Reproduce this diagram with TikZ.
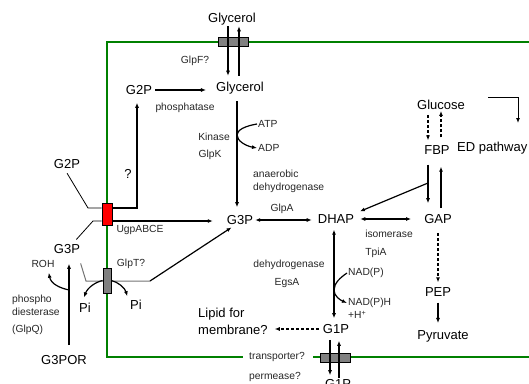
\documentclass[tikz,border=0pt]{standalone}
\usepackage{fontspec}
\setmainfont{Liberation Sans}
\usepackage{tikz}
\usetikzlibrary{arrows.meta, calc}
\definecolor{memgreen}{RGB}{0,128,0}
\definecolor{tpgray}{RGB}{128,128,128}
\tikzset{
  met/.style ={font=\fontsize{13}{17}\selectfont, inner sep=1pt},
  enz/.style ={font=\fontsize{10.3}{13}\selectfont, inner sep=1pt, text=black!85},
  mem/.style ={draw=memgreen, line width=2pt},
  tpg/.style ={rectangle, draw, fill=tpgray, line width=0.8pt, minimum width=30pt, minimum height=9pt, inner sep=0pt},
  tpr/.style ={rectangle, draw, fill=red, line width=0.8pt, minimum width=10pt, minimum height=22pt, inner sep=0pt},
  tpv/.style ={rectangle, draw, fill=tpgray, line width=0.8pt, minimum width=8pt, minimum height=25pt, inner sep=0pt},
  fl/.style  ={-{Latex[length=5pt,width=4pt]}, line width=1.2pt},
  fl2/.style ={{Latex[length=5pt,width=4pt]}-{Latex[length=5pt,width=4pt]}, line width=1.2pt},
  dfl/.style ={fl, dash pattern=on 3pt off 2pt},
  lk/.style  ={line width=0.8pt},
  lkg/.style ={line width=1pt, draw=black!55},
}

\begin{document}
\begin{tikzpicture}[x=1pt, y=-1pt]
  \useasboundingbox (0,0) rectangle (529,383);
  % membrane
  \draw[mem] (529,42) -- (107,42) -- (107,357) -- (243,357);
  \draw[mem] (313,357) -- (529,357);

  % metabolites and enzymes
  \node[met] (glyO) at (232,19) {Glycerol};
  \node[met] (glyI) at (240,88) {Glycerol};
  \node[met] (g2pI) at (139,90) {G2P};
  \node[enz] (glpF) at (195,61) {GlpF?};
  \node[enz] (phos) at (185,108) {phosphatase};
  \node[enz] (kin) at (214,137) {Kinase};
  \node[enz] (glpK) at (210,155) {GlpK};
  \node[enz, anchor=west] (atp) at (257,124) {ATP};
  \node[enz, anchor=west] (adp) at (257,148) {ADP};
  \node[enz, anchor=west, align=left] (anaer) at (252,181) {anaerobic\\dehydrogenase};
  \node[met] (g3p) at (240,220) {G3P};
  \node[enz] (glpA) at (282,209) {GlpA};
  \node[met] (dhap) at (336,219) {DHAP};
  \node[met] (gap) at (438,219) {GAP};
  \node[enz] (isom) at (389,234) {isomerase};
  \node[enz] (tpiA) at (376,253) {TpiA};
  \node[met] (pep) at (438,292) {PEP};
  \node[met] (pyr) at (443,336) {Pyruvate};
  \node[met] (glc) at (441,105) {Glucose};
  \node[met] (fbp) at (437,150) {FBP};
  \node[met, anchor=west] (ed) at (456,148) {ED pathway};
  \node[enz] (dhg) at (289,265) {dehydrogenase};
  \node[enz] (egsA) at (287,283) {EgsA};
  \node[enz, anchor=west] (nadp) at (347,273) {NAD(P)};
  \node[enz, anchor=west] (nadph) at (347,303) {NAD(P)H};
  \node[enz, anchor=west] (hp) at (347,315) {+H\textsuperscript{+}};
  \node[met] (g1p) at (336,329) {G1P};
  \node[met] (g1pO) at (338,384) {G1P};
  \node[met, anchor=west, align=left] (lipid) at (197,321) {Lipid for\\membrane?};
  \node[enz] (trn) at (277,357) {transporter?};
  \node[enz] (perm) at (275,377) {permease?};
  % outside, left
  \node[met] (g2pO) at (67,164) {G2P};
  \node[met] (qm) at (128,174) {?};
  \node[enz] (ugp) at (140,230) {UgpABCE};
  \node[met] (g3pO) at (67,249) {G3P};
  \node[enz] (glpT) at (131,264) {GlpT?};
  \node[enz] (roh) at (43,264) {ROH};
  \node[met] (pi1) at (85,308) {Pi};
  \node[met] (pi2) at (136,305) {Pi};
  \node[enz, anchor=west, align=left] (pde) at (11,305.5) {phospho\\diesterase};
  \node[enz, anchor=west] (glpQ) at (11,330) {(GlpQ)};
  \node[met] (g3por) at (64,360) {G3POR};

  % G3P through GlpT (under the box)
  \coordinate (t1) at (86,281);
  \coordinate (t2) at (150,281);
  \draw[lkg, shorten <=9pt] ([xshift=11pt]g3pO.south) -- (t1) -- (t2);

  % transporters
  \node[tpg] (tpF) at (233,41.5) {};
  \node[tpr] (tpU) at (107,214) {};
  \node[tpv] (tpT) at (107,280.5) {};
  \node[tpg] (tpB) at (335,357.5) {};

  % glycerol in and out
  \draw[fl, shorten >=5pt] ([xshift=-4pt]glyO.south) -- ([xshift=-4pt]glyO.south |- glyI.north);
  \draw[fl, shorten <=5pt] ([xshift=7pt]glyO.south |- glyI.north) -- ([xshift=7pt]glyO.south);
  \draw[fl, shorten <=2pt, shorten >=9pt] (g2pI.east) -- (g2pI.east -| glyI.west);
  \draw[fl, shorten <=6pt, shorten >=7pt] ([xshift=-3pt]glyI.south) -- ([xshift=-3pt]g3p.north);
  \coordinate (kj) at (237,135);
  \draw[fl] (atp.west) .. controls (245,126) and (237,130) .. (kj) .. controls (237,141) and (246,146) .. (adp.west);

  % G3P, DHAP, GAP
  \draw[fl2, shorten <=1pt, shorten >=5pt] (g3p.east) -- (g3p.east -| dhap.west);
  \draw[fl2, shorten <=5pt, shorten >=12pt] (dhap.east) -- (dhap.east -| gap.west);
  \draw[fl2, shorten <=5pt, shorten >=5pt] ([xshift=-2pt]dhap.south) -- ([xshift=-2pt]dhap.south |- g1p.north);
  \coordinate (nj) at (334,290);
  \draw[fl] (nadp.west) .. controls (341,277) and (334,283) .. (nj) .. controls (334,296) and (340,300) .. (nadph.west);
  \draw[dfl, shorten <=3pt] (g1p.west) -- ([xshift=6pt]g1p.west -| lipid.east);
  \draw[fl, shorten <=5pt, shorten >=3pt] ([xshift=-6pt]g1p.south) -- ([xshift=-6pt]g1p.south |- g1pO.north);
  \draw[fl, shorten >=6pt] ([xshift=3pt]g1p.south |- g1pO.north) -- ([xshift=3pt]g1p.south);

  % glucose, FBP
  \draw[dfl, shorten <=4pt, shorten >=4pt] ([xshift=-13pt]glc.south) -- ([xshift=-13pt]glc.south |- fbp.north);
  \draw[dfl, shorten <=7pt] (glc.south |- fbp.north) -- (glc.south);
  \draw[fl, shorten <=9pt, shorten >=10pt] ([xshift=-9pt]fbp.south) -- ([xshift=-9pt]fbp.south |- gap.north);
  \draw[fl, shorten <=5pt, shorten >=11pt] ([xshift=4pt]fbp.south |- gap.north) -- ([xshift=4pt]fbp.south);
  \coordinate (fj) at (428,183);
  \draw[fl, shorten >=5pt] (fj) -- (dhap.north east);
  \coordinate (edS) at (488,97);
  \coordinate (edE) at (518,123);
  \draw[fl, line width=1pt] (edS) -| (edE);
  \draw[dfl, shorten <=8pt, shorten >=4pt] (gap.south) -- (gap.south |- pep.north);
  \draw[fl, shorten <=5pt, shorten >=6pt] (pep.south) -- (pep.south |- pyr.north);

  % G2P and G3P through UgpABCE
  \coordinate (u2) at (88,208);
  \draw[lk, shorten <=4pt] ([xshift=-2pt]g2pO.south) -- (u2) -- (u2 -| tpU.west);
  \draw[fl, shorten >=7pt] (u2 -| tpU.east) -| ([xshift=-2pt]g2pI.south);
  \coordinate (u3) at (93,221);
  \draw[lk, shorten <=5pt] ([xshift=6pt]g3pO.north) -- (u3) -- (u3 -| tpU.west);
  \draw[fl, shorten >=13pt] (u3 -| tpU.east) -- (u3 -| g3p.west);
  \draw[fl, shorten >=3pt] (t2) -- ([xshift=-6pt]g3p.south);

  % Pi release
  \draw[fl, shorten >=5pt] (tpT.west) .. controls (96,282) and (88,287) .. ([xshift=-3pt]pi1.north);
  \draw[fl, shorten >=3pt] (tpT.east) .. controls (118,282) and (125,288) .. ([xshift=-8pt]pi2.north);

  % G3POR
  \draw[fl, shorten <=9pt, shorten >=9pt] ([xshift=5pt]g3por.north) -- ([xshift=5pt]g3por.north |- g3pO.south);
  \coordinate (rj) at (69,290);
  \draw[fl, shorten >=4pt] (rj) .. controls (60,288) and (51,284) .. ([xshift=5pt]roh.south);
\end{tikzpicture}
\end{document}
